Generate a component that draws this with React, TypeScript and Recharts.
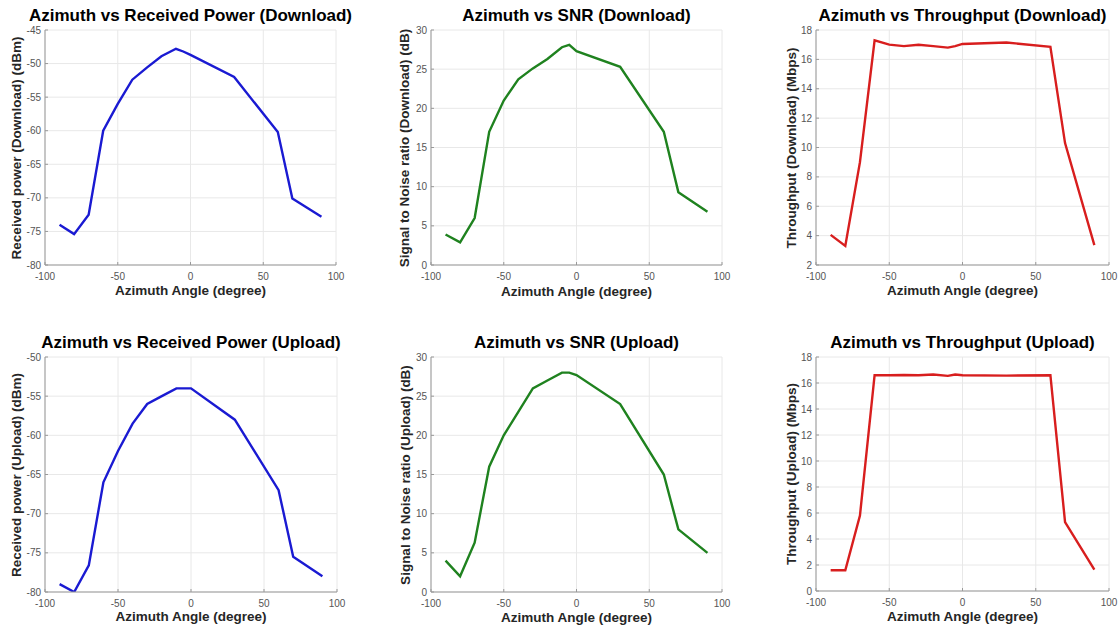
import React from 'react';
import { LineChart, XAxis, YAxis, Line, CartesianGrid } from 'recharts';

// azimuth angles (degree) where the measurements were taken
const angles = [-90, -80, -70, -60, -50, -40, -30, -20, -10, -5, 0, 30, 60, 70, 90];

const rxPowerDownload = [-74.0, -75.4, -72.5, -60.0, -56.0, -52.4, -50.6, -48.9, -47.8, -48.2, -48.7, -52.0, -60.2, -70.1, -72.8];
const snrDownload = [3.9, 2.9, 6.0, 17.0, 21.0, 23.7, 25.1, 26.3, 27.8, 28.1, 27.3, 25.3, 17.0, 9.3, 6.8];
const throughputDownload = [4.05, 3.3, 9.0, 17.3, 17.0, 16.9, 17.0, 16.9, 16.8, 16.9, 17.05, 17.15, 16.85, 10.3, 3.35];

const rxPowerUpload = [-79.0, -80.0, -76.6, -66.0, -62.0, -58.5, -56.0, -55.0, -54.0, -54.0, -54.0, -58.0, -67.0, -75.5, -78.0];
const snrUpload = [4.0, 2.0, 6.3, 16.0, 20.0, 23.0, 26.0, 27.0, 28.0, 28.0, 27.7, 24.0, 15.0, 8.0, 5.0];
const throughputUpload = [1.6, 1.6, 5.8, 16.6, 16.6, 16.62, 16.6, 16.65, 16.55, 16.65, 16.6, 16.57, 16.6, 5.3, 1.65];

const xTicks = [-100, -50, 0, 50, 100];
const rxDownTicks = [-80, -75, -70, -65, -60, -55, -50, -45];
const rxUpTicks = [-80, -75, -70, -65, -60, -55, -50];
const snrTicks = [0, 5, 10, 15, 20, 25, 30];
const tputDownTicks = [2, 4, 6, 8, 10, 12, 14, 16, 18];
const tputUpTicks = [0, 2, 4, 6, 8, 10, 12, 14, 16, 18];

const FONT = '"Liberation Sans", Arial, sans-serif';
const BLUE = '#1a1ad2';
const GREEN = '#1f821f';
const RED = '#d81e1e';

interface Box { l: number; r: number; t: number; b: number }

interface PanelProps {
  box: Box;
  values: number[];
  ticks: number[];
  color: string;
  title: string;
  yLabel: string;
  titleY: number;
  xLabelY: number;
  yLabelX: number;
}

const Panel: React.FC<PanelProps> = ({ box, values, ticks, color, title, yLabel, titleY, xLabelY, yLabelX }) => {
  const data = angles.map((a, i) => ({ angle: a, v: values[i] }));
  const domain = [ticks[0], ticks[ticks.length - 1]];
  const w = box.r - box.l + 45 + 10;
  const h = box.b - box.t + 10 + 20 + 5;
  const cx = (box.l + box.r) / 2;
  const cy = (box.t + box.b) / 2;
  const tickStyle = { fill: '#555', fontSize: 10, fontFamily: FONT };
  return (
    <>
      <div style={{ position: 'absolute', left: cx - 200, top: titleY - 11, width: 400, textAlign: 'center', fontFamily: FONT, fontWeight: 'bold', fontSize: 17, color: '#000', lineHeight: '22px', whiteSpace: 'nowrap' }}>
        {title}
      </div>
      <div style={{ position: 'absolute', left: cx - 150, top: xLabelY - 9, width: 300, textAlign: 'center', fontFamily: FONT, fontWeight: 'bold', fontSize: 13.5, color: '#262626', lineHeight: '18px', whiteSpace: 'nowrap' }}>
        Azimuth Angle (degree)
      </div>
      <div style={{ position: 'absolute', left: yLabelX - 150, top: cy - 9, width: 300, textAlign: 'center', fontFamily: FONT, fontWeight: 'bold', fontSize: 13.5, color: '#262626', lineHeight: '18px', whiteSpace: 'nowrap', transform: 'rotate(-90deg)' }}>
        {yLabel}
      </div>
      <div style={{ position: 'absolute', left: box.l - 45, top: box.t - 10 }}>
        <LineChart width={w} height={h} data={data} margin={{ top: 10, right: 10, bottom: 5, left: 5 }}>
          <CartesianGrid stroke="#e8e8e8" strokeWidth={1} />
          <XAxis dataKey="angle" type="number" domain={[-100, 100]} ticks={xTicks} height={20}
            tick={tickStyle} tickSize={-3} tickMargin={11} stroke="#999" interval={0} />
          <XAxis xAxisId="top" orientation="top" dataKey="angle" type="number" domain={[-100, 100]} ticks={xTicks}
            height={0} tick={false} tickSize={-3} stroke="#999" />
          <YAxis type="number" domain={domain} ticks={ticks} width={40} allowDataOverflow
            tick={tickStyle} tickSize={-3} tickMargin={7} stroke="#999" interval={0} />
          <YAxis yAxisId="right" orientation="right" type="number" domain={domain} ticks={ticks} width={0}
            allowDataOverflow tick={false} tickSize={-3} stroke="#999" />
          <Line type="linear" dataKey="v" stroke={color} strokeWidth={2.4} dot={false} isAnimationActive={false} />
        </LineChart>
      </div>
    </>
  );
};

const App: React.FC = () => {
  return (
    <div style={{ position: 'absolute', left: 0, top: 0, width: 1118, height: 631, background: '#fff', overflow: 'hidden' }}>
      <Panel box={{ l: 45, r: 336, t: 30, b: 265 }} values={rxPowerDownload} ticks={rxDownTicks} color={BLUE}
        title="Azimuth vs Received Power (Download)" yLabel="Received power (Download) (dBm)" titleY={16} xLabelY={291} yLabelX={17} />
      <Panel box={{ l: 431, r: 722, t: 30, b: 265 }} values={snrDownload} ticks={snrTicks} color={GREEN}
        title="Azimuth vs SNR (Download)" yLabel="Signal to Noise ratio (Download) (dB)" titleY={16} xLabelY={292} yLabelX={405} />
      <Panel box={{ l: 816, r: 1109, t: 30, b: 265 }} values={throughputDownload} ticks={tputDownTicks} color={RED}
        title="Azimuth vs Throughput (Download)" yLabel="Throughput (Download) (Mbps)" titleY={16} xLabelY={291} yLabelX={792} />
      <Panel box={{ l: 45, r: 337, t: 357, b: 592 }} values={rxPowerUpload} ticks={rxUpTicks} color={BLUE}
        title="Azimuth vs Received Power (Upload)" yLabel="Received power (Upload) (dBm)" titleY={343} xLabelY={617} yLabelX={17} />
      <Panel box={{ l: 431, r: 722, t: 357, b: 592 }} values={snrUpload} ticks={snrTicks} color={GREEN}
        title="Azimuth vs SNR (Upload)" yLabel="Signal to Noise ratio (Upload) (dB)" titleY={343} xLabelY={618} yLabelX={406} />
      <Panel box={{ l: 816, r: 1109, t: 357, b: 591 }} values={throughputUpload} ticks={tputUpTicks} color={RED}
        title="Azimuth vs Throughput (Upload)" yLabel="Throughput (Upload) (Mbps)" titleY={343} xLabelY={617} yLabelX={792} />
    </div>
  );
};

export default App;
